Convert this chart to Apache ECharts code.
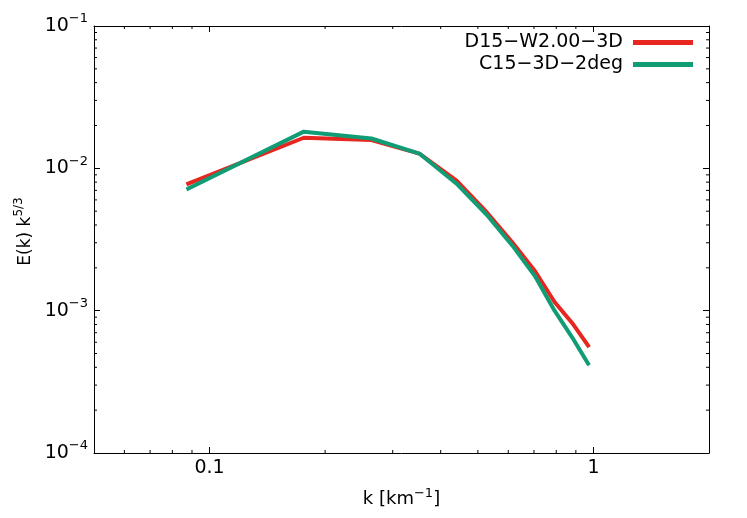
<!DOCTYPE html>
<html>
<head>
<meta charset="utf-8">
<script src="https://cdn.jsdelivr.net/npm/echarts@6/dist/echarts.min.js"></script>
<style>
  html, body { margin: 0; padding: 0; background: #fff; }
  #chart { width: 747px; height: 518px; }
</style>
</head>
<body>
<div id="chart"></div>
<script>
// 波数 k [km^-1]
const kValues = [0.088, 0.176, 0.264, 0.352, 0.44, 0.528, 0.616, 0.704, 0.792, 0.88, 0.968];
// 两条谱线 E(k) k^5/3
const redName = 'D15\u2212W2.00\u22123D';
const redValues = [7.8e-3, 1.64e-2, 1.58e-2, 1.27e-2, 8.2e-3, 4.9e-3, 3.0e-3, 1.9e-3, 1.15e-3, 8.2e-4, 5.7e-4];
const greenName = 'C15\u22123D\u22122deg';
const greenValues = [7.2e-3, 1.81e-2, 1.62e-2, 1.27e-2, 7.8e-3, 4.7e-3, 2.85e-3, 1.75e-3, 1.0e-3, 6.5e-4, 4.25e-4];
// 坐标范围与次刻度
const xRange = [0.05, 2];
const yRange = [1e-4, 1e-1];
const xMinorTicks = [0.06, 0.07, 0.08, 0.09, 0.2, 0.3, 0.4, 0.5, 0.6, 0.7, 0.8, 0.9];
const yMinorTicks = [2e-4, 3e-4, 4e-4, 5e-4, 6e-4, 7e-4, 8e-4, 9e-4,
                     2e-3, 3e-3, 4e-3, 5e-3, 6e-3, 7e-3, 8e-3, 9e-3,
                     2e-2, 3e-2, 4e-2, 5e-2, 6e-2, 7e-2, 8e-2, 9e-2];

const FONT = 'DejaVu Sans';
const chart = echarts.init(document.getElementById('chart'));

function xAxisCfg(pos, showLabel) {
    return {
        type: 'log', logBase: 10, position: pos,
        min: xRange[0], max: xRange[1],
        axisLine: { show: true, onZero: false, lineStyle: { color: '#000', width: 1 } },
        axisTick: { show: true, inside: true, length: 6, lineStyle: { color: '#000' } },
        splitLine: { show: false },
        axisLabel: {
            show: showLabel, showMinLabel: false, showMaxLabel: false,
            color: '#000', fontFamily: FONT, fontSize: 19, margin: 6
        }
    };
}

function yAxisCfg(pos, showLabel) {
    return {
        type: 'log', logBase: 10, position: pos,
        min: yRange[0], max: yRange[1],
        axisLine: { show: true, onZero: false, lineStyle: { color: '#000', width: 1 } },
        axisTick: { show: true, inside: true, length: 6, lineStyle: { color: '#000' } },
        splitLine: { show: false },
        axisLabel: {
            show: showLabel, color: '#000', fontFamily: FONT, fontSize: 19, margin: 6,
            formatter: v => '10{sup|\u2212' + Math.abs(Math.round(Math.log10(v))) + '}',
            rich: {
                sup: { fontSize: 13, fontFamily: FONT, color: '#000', padding: [0, 0, 14, 0] }
            }
        }
    };
}

const xBottom = xAxisCfg('bottom', true);
xBottom.name = 'k [km{sup|\u22121}]';
xBottom.nameLocation = 'middle';
xBottom.nameGap = 34;
xBottom.nameTextStyle = {
    color: '#000', fontFamily: FONT, fontSize: 18,
    rich: { sup: { fontSize: 13, fontFamily: FONT, color: '#000', padding: [0, 0, 12, 0] } }
};

const yLeft = yAxisCfg('left', true);
yLeft.name = 'E(k) k{sup|5/3}';
yLeft.nameLocation = 'middle';
yLeft.nameGap = 54;
yLeft.nameTextStyle = {
    color: '#000', fontFamily: FONT, fontSize: 17,
    padding: [0, 0, 0, 16],
    rich: { sup: { fontSize: 12, fontFamily: FONT, color: '#000', padding: [0, 0, 12, 0] } }
};

// 次刻度（四边）
function minorTickSeries(values, isX) {
    return {
        type: 'custom',
        silent: true,
        xAxisIndex: 0, yAxisIndex: 0,
        data: values.map(v => isX ? [v, yRange[0]] : [xRange[0], v]),
        renderItem: function(params, api) {
            const cs = params.coordSys;
            const p = api.coord([api.value(0), api.value(1)]);
            const style = { stroke: '#000', lineWidth: 1 };
            if (isX) {
                return { type: 'group', children: [
                    { type: 'line', shape: { x1: p[0], y1: cs.y + cs.height, x2: p[0], y2: cs.y + cs.height - 3 }, style },
                    { type: 'line', shape: { x1: p[0], y1: cs.y, x2: p[0], y2: cs.y + 3 }, style }
                ] };
            }
            return { type: 'group', children: [
                { type: 'line', shape: { x1: cs.x, y1: p[1], x2: cs.x + 3, y2: p[1] }, style },
                { type: 'line', shape: { x1: cs.x + cs.width, y1: p[1], x2: cs.x + cs.width - 3, y2: p[1] }, style }
            ] };
        }
    };
}

const option = {
    backgroundColor: '#fff',
    animation: false,
    grid: { left: 94, right: 38, top: 26, bottom: 65 },
    legend: {
        orient: 'vertical',
        right: 54, top: 33,
        padding: 0,
        align: 'right',
        itemWidth: 60, itemHeight: 5, itemGap: 3,
        icon: 'rect',
        textStyle: { color: '#000', fontFamily: FONT, fontSize: 19, padding: [0, 5, 0, 0] },
        data: [redName, greenName]
    },
    xAxis: [xBottom, xAxisCfg('top', false)],
    yAxis: [yLeft, yAxisCfg('right', false)],
    series: [
        minorTickSeries(xMinorTicks, true),
        minorTickSeries(yMinorTicks, false),
        {
            name: redName, type: 'line', symbol: 'none',
            itemStyle: { color: '#e6261f' },
            lineStyle: { color: '#e6261f', width: 4, cap: 'square', join: 'round' },
            data: kValues.map((k, i) => [k, redValues[i]])
        },
        {
            name: greenName, type: 'line', symbol: 'none',
            itemStyle: { color: '#109d76' },
            lineStyle: { color: '#109d76', width: 4, cap: 'square', join: 'round' },
            data: kValues.map((k, i) => [k, greenValues[i]])
        }
    ]
};

chart.setOption(option);
</script>
</body>
</html>
